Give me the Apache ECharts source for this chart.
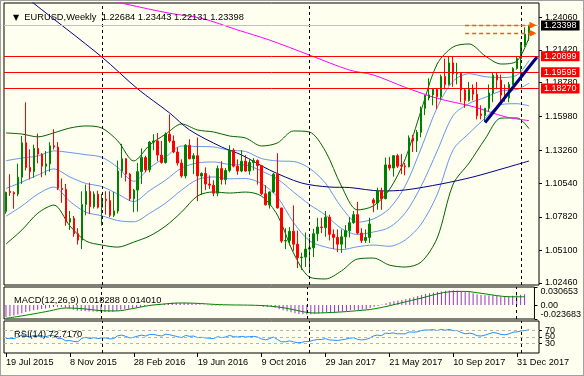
<!DOCTYPE html>
<html>
<head>
<meta charset="utf-8">
<script src="https://cdn.jsdelivr.net/npm/echarts@6/dist/echarts.min.js"></script>
<style>
html, body { margin: 0; padding: 0; background: #fffff0; }
#wrap { position: relative; width: 584px; height: 376px; }
#chart { width: 584px; height: 376px; }
#frame { position: absolute; left: 0; top: 0; width: 582px; height: 374px; border: 1px solid #a0a0a0; pointer-events: none; }
</style>
</head>
<body>
<div id="wrap"><div id="chart"></div><div id="frame"></div></div>
<script>
// weekly EURUSD bars, [open, close, low, high], from 19 Jul 2015
const candles = [
  [1.0826,1.0982,1.0808,1.0987],[1.0990,1.0980,1.0952,1.1129],[1.0980,1.0968,1.0848,1.0990],[1.0968,1.1105,1.0950,1.1215],
  [1.1105,1.1385,1.1050,1.1440],[1.1385,1.1184,1.1160,1.1714],[1.1184,1.1150,1.1087,1.1332],[1.1150,1.1340,1.1100,1.1370],
  [1.1340,1.1293,1.1218,1.1460],[1.1293,1.1195,1.1105,1.1300],[1.1195,1.1213,1.1120,1.1318],[1.1213,1.1360,1.1150,1.1390],
  [1.1360,1.1350,1.1330,1.1495],[1.1350,1.1015,1.1000,1.1390],[1.1015,1.1005,1.0897,1.1095],[1.1005,1.0740,1.0710,1.1050],
  [1.0740,1.0770,1.0675,1.0830],[1.0770,1.0645,1.0620,1.0790],[1.0645,1.0593,1.0557,1.0690],[1.0593,1.0883,1.0520,1.0990],
  [1.0883,1.0990,1.0795,1.1045],[1.0990,1.0865,1.0805,1.1060],[1.0865,1.0967,1.0850,1.0990],[1.0967,1.0860,1.0850,1.0995],
  [1.0860,1.0925,1.0710,1.0970],[1.0925,1.0915,1.0800,1.0990],[1.0915,1.0795,1.0780,1.0990],[1.0795,1.0830,1.0780,1.0985],
  [1.0830,1.1155,1.0810,1.1240],[1.1155,1.1255,1.1100,1.1376],[1.1255,1.1130,1.1070,1.1260],[1.1130,1.0930,1.0910,1.1140],
  [1.0930,1.1000,1.0820,1.1010],[1.1000,1.1150,1.0825,1.1220],[1.1150,1.1265,1.1050,1.1340],[1.1265,1.1165,1.1145,1.1280],
  [1.1165,1.1390,1.1145,1.1400],[1.1390,1.1400,1.1325,1.1455],[1.1400,1.1285,1.1235,1.1465],[1.1285,1.1225,1.1215,1.1400],
  [1.1225,1.1455,1.1215,1.1470],[1.1455,1.1400,1.1385,1.1616],[1.1400,1.1310,1.1300,1.1445],[1.1310,1.1220,1.1200,1.1350],
  [1.1220,1.1115,1.1100,1.1250],[1.1115,1.1365,1.1095,1.1375],[1.1365,1.1255,1.1250,1.1415],[1.1255,1.1280,1.1130,1.1300],
  [1.1280,1.1115,1.0910,1.1428],[1.1115,1.1135,1.0960,1.1145],[1.1135,1.1050,1.1000,1.1185],[1.1050,1.1040,1.1010,1.1120],
  [1.1040,1.0975,1.0950,1.1080],[1.0975,1.1175,1.0950,1.1200],[1.1175,1.1085,1.1045,1.1235],[1.1085,1.1160,1.1045,1.1180],
  [1.1160,1.1325,1.1145,1.1365],[1.1325,1.1195,1.1185,1.1340],[1.1195,1.1155,1.1125,1.1250],[1.1155,1.1235,1.1145,1.1325],
  [1.1235,1.1155,1.1150,1.1285],[1.1155,1.1225,1.1125,1.1255],[1.1225,1.1240,1.1160,1.1260],[1.1240,1.1200,1.1045,1.1250],
  [1.1200,1.0970,1.0960,1.1205],[1.0970,1.0880,1.0875,1.1040],[1.0880,1.0985,1.0850,1.0990],[1.0985,1.1130,1.0975,1.1140],
  [1.1130,1.0855,1.0850,1.1300],[1.0855,1.0585,1.0570,1.0830],[1.0585,1.0590,1.0520,1.0690],[1.0590,1.0665,1.0550,1.0700],
  [1.0665,1.0560,1.0505,1.0875],[1.0560,1.0450,1.0365,1.0670],[1.0450,1.0455,1.0350,1.0490],[1.0455,1.0520,1.0375,1.0655],
  [1.0520,1.0530,1.0340,1.0615],[1.0530,1.0645,1.0455,1.0685],[1.0645,1.0700,1.0585,1.0775],[1.0700,1.0695,1.0650,1.0775],
  [1.0695,1.0780,1.0620,1.0830],[1.0780,1.0640,1.0590,1.0800],[1.0640,1.0615,1.0520,1.0680],[1.0615,1.0560,1.0495,1.0680],
  [1.0560,1.0620,1.0490,1.0680],[1.0620,1.0670,1.0525,1.0715],[1.0670,1.0735,1.0615,1.0780],[1.0735,1.0800,1.0725,1.0830],
  [1.0800,1.0650,1.0640,1.0905],[1.0650,1.0590,1.0570,1.0690],[1.0590,1.0615,1.0570,1.0680],[1.0615,1.0725,1.0570,1.0775],
  [1.0920,1.0895,1.0820,1.0935],[1.0895,1.0995,1.0840,1.1020],[1.0995,1.0930,1.0840,1.1020],[1.0930,1.1205,1.0925,1.1265],
  [1.1205,1.1180,1.1160,1.1270],[1.1180,1.1280,1.1110,1.1285],[1.1280,1.1195,1.1180,1.1295],[1.1200,1.1195,1.1130,1.1295],
  [1.1197,1.1190,1.1120,1.1220],[1.1190,1.1425,1.1185,1.1445],[1.1425,1.1400,1.1310,1.1450],[1.1400,1.1470,1.1310,1.1490],
  [1.1470,1.1665,1.1430,1.1680],[1.1665,1.1750,1.1610,1.1775],[1.1750,1.1775,1.1730,1.1910],[1.1775,1.1820,1.1690,1.1830],
  [1.1820,1.1760,1.1660,1.1825],[1.1760,1.1925,1.1735,1.1940],[1.1925,1.1860,1.1820,1.2070],[1.1860,1.2035,1.1850,1.2090],
  [1.2035,1.1945,1.1840,1.2090],[1.1945,1.1950,1.1860,1.2035],[1.1950,1.1815,1.1715,1.1960],[1.1815,1.1730,1.1670,1.1830],
  [1.1730,1.1820,1.1720,1.1880],[1.1820,1.1780,1.1730,1.1860],[1.1780,1.1605,1.1575,1.1880],[1.1620,1.1607,1.1575,1.1690],
  [1.1607,1.1665,1.1555,1.1670],[1.1665,1.1790,1.1640,1.1860],[1.1790,1.1935,1.1715,1.1960],[1.1935,1.1895,1.1820,1.1960],
  [1.1895,1.1772,1.1715,1.1940],[1.1772,1.1750,1.1720,1.1860],[1.1750,1.1860,1.1715,1.1880],[1.1860,1.1990,1.1855,1.2000],
  [1.1990,1.2070,1.1980,1.2090],[1.2070,1.2180,1.1915,1.2205],[1.2180,1.2268,1.2165,1.2325],[1.22684,1.23398,1.22131,1.23443]
];

// bollinger 20: middle line and one deviation, every 4 bars
const bbIdx = [0,4,8,12,16,20,24,28,32,36,40,44,48,52,56,60,64,68,72,76,80,84,88,92,96,100,104,108,112,116,120,124,128,131];
const bbMid = [1.1013,1.1066,1.1123,1.1172,1.1107,1.1054,1.1029,1.0968,1.0907,1.0997,1.1082,1.1180,1.1221,1.1229,1.1208,1.1204,1.1155,
  1.1090,1.0985,1.0883,1.0797,1.0688,1.0639,1.0659,1.0696,1.0814,1.1033,1.1318,1.1607,1.1705,1.1754,1.1806,1.1819,1.1870];
const bbDev = [0.0226,0.0195,0.0155,0.0147,0.0199,0.0234,0.0238,0.0216,0.0165,0.0185,0.0187,0.0179,0.0134,0.0122,0.0116,0.0110,0.0102,
  0.0147,0.0248,0.0295,0.0260,0.0173,0.0100,0.0106,0.0153,0.0220,0.0309,0.0354,0.0279,0.0242,0.0169,0.0110,0.0116,0.0185];

// navy and magenta moving averages
const maSlowIdx = [0,7,24,33,41,46,54,59,66,74,81,86,94,100,109,117,125,131];
const maSlow = [1.2700,1.2518,1.2083,1.1823,1.1627,1.1489,1.1351,1.1286,1.1164,1.1058,1.1025,1.1021,1.0993,1.1001,1.1050,1.1107,1.1180,1.1237];
const maLongIdx = [0,20,30,41,49,58,66,76,86,92,100,108,117,125,131];
const maLong = [1.2700,1.2590,1.2514,1.2439,1.2398,1.2303,1.2221,1.2099,1.1977,1.1937,1.1836,1.1747,1.1679,1.1597,1.1565];

// MACD(12,26,9) histogram, one value per bar
const macdHist = [
  -0.0205,-0.0190,-0.0176,-0.0160,-0.0140,-0.0120,-0.0105,-0.0090,
  -0.0078,-0.0068,-0.0058,-0.0045,-0.0032,-0.0030,-0.0032,-0.0045,
  -0.0060,-0.0078,-0.0095,-0.0100,-0.0102,-0.0108,-0.0110,-0.0115,
  -0.0118,-0.0116,-0.0118,-0.0115,-0.0098,-0.0080,-0.0068,-0.0064,
  -0.0058,-0.0046,-0.0032,-0.0022,-0.0008,0.0006,0.0012,0.0015,
  0.0026,0.0036,0.0042,0.0040,0.0034,0.0037,0.0034,0.0030,
  0.0022,0.0012,0.0005,-0.0002,-0.0009,-0.0006,-0.0007,-0.0005,
  0.0006,0.0005,0.0003,0.0004,0.0002,0.0003,0.0004,0.0001,
  -0.0013,-0.0028,-0.0034,-0.0028,-0.0045,-0.0070,-0.0090,-0.0105,
  -0.0122,-0.0140,-0.0152,-0.0158,-0.0160,-0.0155,-0.0148,-0.0140,
  -0.0132,-0.0128,-0.0124,-0.0121,-0.0115,-0.0108,-0.0100,-0.0090,
  -0.0086,-0.0084,-0.0080,-0.0070,-0.0050,-0.0030,-0.0015,0.0010,
  0.0032,0.0052,0.0066,0.0077,0.0086,0.0104,0.0118,0.0133,
  0.0153,0.0172,0.0188,0.0202,0.0210,0.0222,0.0230,0.0243,
  0.0248,0.0250,0.0246,0.0235,0.0227,0.0217,0.0200,0.0184,
  0.0172,0.0166,0.0168,0.0166,0.0155,0.0144,0.0141,0.0148,
  0.0156,0.0168,0.0176,0.018288
];
const signalIdx = [0,3,7,11,15,19,24,28,32,36,40,44,48,53,57,61,65,69,72,76,78,84,88,92,96,100,105,109,112,116,120,124,127,131];
const signal = [-0.0225,-0.0195,-0.0150,-0.0100,-0.0050,-0.0060,-0.0095,-0.0100,-0.0060,-0.0010,0.0018,0.0035,0.0030,0.0010,0.0002,-0.0001,
  -0.0010,-0.0035,-0.0070,-0.0125,-0.0135,-0.0120,-0.0100,-0.0075,-0.0025,0.0040,0.0120,0.0190,0.0225,0.0232,0.0200,0.0160,0.0141,0.01401];

// RSI(14), one value per bar
const rsi = [
  45,46,45,50,57,52,51,55, 53,50,51,55,54,45,45,38,
  39,36,35,46,49,45,48,45, 47,47,44,45,54,56,52,47,
  49,53,56,53,58,58,55,53, 59,57,54,51,48,55,52,53,
  48,49,47,46,45,51,48,50, 55,51,50,52,50,51,52,50,
  44,41,45,50,42,35,35,38, 35,32,33,36,36,40,42,42,
  45,41,40,39,41,43,46,48, 43,41,42,46,53,56,54,62,
  61,63,60,60,60,66,65,66, 70,72,72,73,70,74,71,74,
  70,70,64,60,62,60,54,53, 56,60,64,62,58,57,60,65,
  66,69,70,72.717
];

const priceTicks = [1.0246,1.0510,1.0782,1.1054,1.1326,1.1598,1.1878,1.2142,1.2406];
const macdTicks = [-0.023683, 0, 0.030653];
const rsiTicks = [0, 30, 50, 70, 100];
const redLevels = [1.20899, 1.19595, 1.18270];
const bidPrice = 1.23398;
const alertLevels = [1.2341, 1.2276];
const trendFrom = [120, 1.1550];
const trendTo = [133, 1.2083];
const yearStarts = [24, 76, 129];

const MONTHS = ['Jan','Feb','Mar','Apr','May','Jun','Jul','Aug','Sep','Oct','Nov','Dec'];
const weeks = [];
for (let i = 0; i < 134; i++) {
  const d = new Date(Date.UTC(2015, 6, 19 + 7 * i));
  weeks.push(d.getUTCDate() + ' ' + MONTHS[d.getUTCMonth()] + ' ' + d.getUTCFullYear());
}

const pairs = (idx, vals) => idx.map((k, i) => [k, vals[i]]);
const band = (m) => bbIdx.map((k, i) => [k, +(bbMid[i] + m * bbDev[i]).toFixed(5)]);

const FONT = 'Liberation Sans';
const sepStyle = { color: '#000', width: 1, type: [3, 3] };
const tagLabel = (bg) => ({
  show: true, position: 'end', distance: 2, formatter: p => Number(p.value).toFixed(5),
  backgroundColor: bg, color: '#fff', padding: [1, 3, 0, 3], fontSize: 9, fontFamily: FONT
});

// empty helper series that only carry mark lines
const marks = (xi, yi, markLine) => ({
  type: 'line', xAxisIndex: xi, yAxisIndex: yi, data: [], silent: true, z: 5,
  markLine: Object.assign({ silent: true, symbol: ['none', 'none'], precision: 6, animation: false }, markLine)
});

const lineSeries = (name, data, color) => ({
  name, type: 'line', xAxisIndex: 0, yAxisIndex: 0, data, symbol: 'none', smooth: 0.3,
  lineStyle: { color, width: 1 }, silent: true, z: 3
});

const chart = echarts.init(document.getElementById('chart'));

const option = {
  animation: false,
  backgroundColor: '#fffff0',
  textStyle: { fontFamily: FONT },
  title: [
    { text: '{tri|▼}  EURUSD,Weekly  1.22684 1.23443 1.22131 1.23398', left: 8, top: 8,
      textStyle: { fontSize: 9.3, fontWeight: 'normal', color: '#000', fontFamily: FONT,
        rich: { tri: { fontSize: 8, fontFamily: 'DejaVu Sans', color: '#000' } } } },
    { text: 'MACD(12,26,9) 0.018288 0.014010', left: 9, top: 291,
      textStyle: { fontSize: 9.3, fontWeight: 'normal', color: '#000', fontFamily: FONT } },
    { text: 'RSI(14) 72.7170', left: 9, top: 325,
      textStyle: { fontSize: 9.3, fontWeight: 'normal', color: '#000', fontFamily: FONT } }
  ],
  grid: [
    { left: 4, top: 3, width: 535, height: 282, show: true, borderColor: '#000', borderWidth: 1 },
    { left: 4, top: 287, width: 535, height: 32, show: true, borderColor: '#000', borderWidth: 1 },
    { left: 4, top: 321, width: 535, height: 32, show: true, borderColor: '#000', borderWidth: 1 }
  ],
  xAxis: [0, 1, 2].map(i => ({
    type: 'category', gridIndex: i, data: weeks, boundaryGap: true,
    axisLine: { show: false }, splitLine: { show: false },
    axisTick: { show: i === 2, alignWithLabel: true, length: 4, interval: k => k % 16 === 0 && k <= 128, lineStyle: { color: '#000' } },
    axisLabel: { show: i === 2, interval: k => k % 16 === 0 && k <= 128, align: 'left', margin: 5,
      fontSize: 9.2, color: '#000', fontFamily: FONT }
  })),
  yAxis: [
    { type: 'value', gridIndex: 0, position: 'right', min: 1.02278, max: 1.25224,
      splitLine: { show: false }, axisLine: { show: false },
      axisTick: { show: true, length: 3, customValues: priceTicks, lineStyle: { color: '#000' } },
      axisLabel: { customValues: priceTicks, formatter: v => v.toFixed(5), fontSize: 9, margin: 6, color: '#000', fontFamily: FONT } },
    { type: 'value', gridIndex: 1, position: 'right', min: -0.023683, max: 0.030653,
      splitLine: { show: false }, axisLine: { show: false },
      axisTick: { show: true, length: 3, customValues: macdTicks, lineStyle: { color: '#000' } },
      axisLabel: { customValues: macdTicks, formatter: v => v === 0 ? '0.00' : v.toFixed(6), fontSize: 9, margin: 6, color: '#000',
        verticalAlignMinLabel: 'bottom', verticalAlignMaxLabel: 'top', fontFamily: FONT } },
    { type: 'value', gridIndex: 2, position: 'right', min: 0, max: 100,
      splitLine: { show: false }, axisLine: { show: false },
      axisTick: { show: true, length: 3, customValues: rsiTicks, lineStyle: { color: '#000' } },
      axisLabel: { customValues: rsiTicks, fontSize: 9, margin: 6, color: '#000',
        verticalAlignMinLabel: 'bottom', verticalAlignMaxLabel: 'top', fontFamily: FONT } }
  ],
  series: [
    lineSeries('bbUp2', band(2), '#006400'),
    lineSeries('bbDn2', band(-2), '#006400'),
    lineSeries('bbUp1', band(1), '#6495ed'),
    lineSeries('bbMid', band(0), '#6495ed'),
    lineSeries('bbDn1', band(-1), '#6495ed'),
    lineSeries('maSlow', pairs(maSlowIdx, maSlow), '#000080'),
    lineSeries('maLong', pairs(maLongIdx, maLong), '#ff00ff'),
    marks(0, 0, { label: { show: false }, lineStyle: sepStyle, data: yearStarts.map(k => ({ xAxis: k })) }),
    marks(0, 0, { lineStyle: { color: '#ff0000', width: 1, type: 'solid' }, label: tagLabel('#ff0000'),
      data: redLevels.map(v => ({ yAxis: v })) }),
    marks(0, 0, { lineStyle: { color: '#c0c0c0', width: 1, type: 'solid' }, label: tagLabel('#000'),
      data: [{ yAxis: bidPrice }] }),
    marks(0, 0, { lineStyle: { color: '#ff5a00', width: 1.3, type: [4, 3], opacity: 1 }, label: { show: false },
      itemStyle: { color: '#ff5a00' },
      symbol: ['none', 'triangle'], symbolSize: 7,
      data: alertLevels.map(v => [{ coord: [115, v] }, { coord: [132, v] }]) }),
    {
      name: 'EURUSD', type: 'candlestick', xAxisIndex: 0, yAxisIndex: 0, data: candles, barWidth: 2, z: 4,
      itemStyle: { color: '#008000', color0: '#ff0000', borderColor: '#008000', borderColor0: '#ff0000', borderWidth: 1 },
      markLine: {
        silent: true, symbol: ['none', 'none'], precision: 6, animation: false, label: { show: false },
        lineStyle: { color: '#000080', width: 3, type: 'solid' },
        data: [[{ coord: trendFrom }, { coord: trendTo }]]
      }
    },
    {
      name: 'MACD', type: 'bar', xAxisIndex: 1, yAxisIndex: 1, data: macdHist, barWidth: 1,
      itemStyle: { color: '#9932cc' }, silent: true
    },
    {
      name: 'Signal', type: 'line', xAxisIndex: 1, yAxisIndex: 1, data: pairs(signalIdx, signal), symbol: 'none', smooth: 0.3,
      lineStyle: { color: '#008000', width: 1 }, silent: true
    },
    marks(1, 1, { label: { show: false }, lineStyle: sepStyle, data: yearStarts.map(k => ({ xAxis: k })) }),
    {
      name: 'RSI', type: 'line', xAxisIndex: 2, yAxisIndex: 2, data: rsi, symbol: 'none',
      lineStyle: { color: '#1e90ff', width: 1 }, silent: true
    },
    marks(2, 2, { label: { show: false }, lineStyle: { color: '#b4b4b4', width: 1, type: [3, 3] },
      data: [30, 50, 70].map(v => ({ yAxis: v })) }),
    marks(2, 2, { label: { show: false }, lineStyle: sepStyle, data: yearStarts.map(k => ({ xAxis: k })) })
  ]
};

chart.setOption(option);
</script>
</body>
</html>
